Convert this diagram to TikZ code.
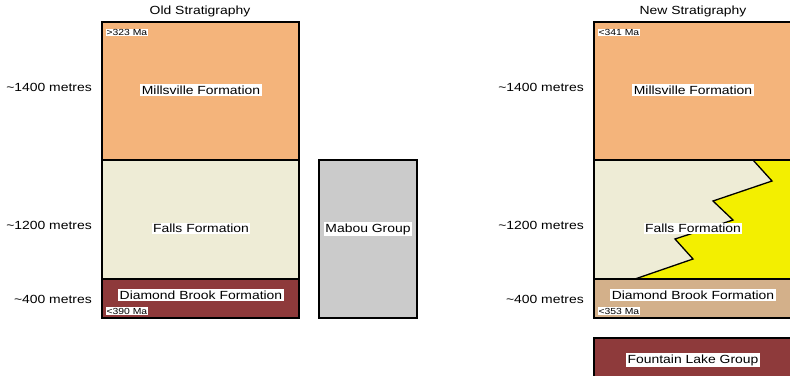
\documentclass[tikz,border=0pt]{standalone}
\usepackage{fontspec}
\setmainfont[FakeStretch=1.18]{Liberation Sans}
\definecolor{mills}{HTML}{F4B47B}
\definecolor{falls}{HTML}{EEECD6}
\definecolor{olddb}{HTML}{8E3A3B}
\definecolor{newdb}{HTML}{D3B08A}
\definecolor{mabou}{HTML}{CBCBCB}
\definecolor{ylw}{HTML}{F3EF00}
\begin{document}
\begin{tikzpicture}[x=1pt,y=-1pt,
  layer/.style={draw=black, line width=1.5pt, inner sep=0pt, outer sep=0pt, anchor=north west},
  lbl/.style={fill=white, inner sep=1.5pt, font=\fontsize{11.8}{13}\selectfont},
  age/.style={fill=white, inner sep=0.8pt, anchor=west, font=\fontsize{8.8}{9}\selectfont},
  depth/.style={anchor=east, inner sep=0pt, font=\fontsize{11.8}{13}\selectfont},
  ttl/.style={inner sep=0pt, font=\fontsize{11.8}{13}\selectfont}]
\useasboundingbox (0,0) rectangle (790,375);
\clip (0,0) rectangle (790,375);
% Old stratigraphy
\node[ttl] (t1) at (200,11) {Old Stratigraphy};
\node[layer, fill=mills, minimum width=197pt, minimum height=138pt] (om) at (102,22) {};
\node[layer, fill=falls, minimum width=197pt, minimum height=119pt] (of) at (102,160) {};
\node[layer, fill=olddb, minimum width=197pt, minimum height=39pt] (od) at (102,279) {};
\node[layer, fill=mabou, minimum width=98pt, minimum height=158pt] (mb) at (319,160) {};
\node[lbl] (omL) at (201,90) {Millsville Formation};
\node[lbl] (ofL) at (201,228.5) {Falls Formation};
\node[lbl] (odL) at (201,295) {Diamond Brook Formation};
\node[lbl] (mbL) at (368,229) {Mabou Group};
\node[age] (oa1) at (105.5,32.5) {>323 Ma};
\node[age] (oa2) at (105.5,311) {<390 Ma};
\node[depth] (d1) at (92,87) {\textasciitilde1400 metres};
\node[depth] (d2) at (92,225) {\textasciitilde1200 metres};
\node[depth] (d3) at (92,299.5) {\textasciitilde400 metres};
% New stratigraphy
\node[ttl] (t2) at (693,11) {New Stratigraphy};
\node[layer, fill=mills, minimum width=198pt, minimum height=138pt] (nm) at (594,22) {};
\node[layer, fill=falls, minimum width=198pt, minimum height=119pt] (nf) at (594,160) {};
\fill[ylw] (753,160) -- (772,181) -- (713,201) -- (733,220) -- (675,239) -- (693,259) -- (635,279) -- (800,279) -- (800,160) -- cycle;
\draw[line width=1.3pt, line join=miter] (753,160) -- (772,181) -- (713,201) -- (733,220) -- (675,239) -- (693,259) -- (635,279);
\draw[line width=1.5pt] (nf.north west) -- (nf.north east);
\node[layer, fill=newdb, minimum width=198pt, minimum height=39pt] (nd) at (594,279) {};
\node[layer, fill=olddb, minimum width=198pt, minimum height=50pt] (fl) at (594,338) {};
\node[lbl] (nmL) at (693,90) {Millsville Formation};
\node[lbl] (nfL) at (693,228.5) {Falls Formation};
\node[lbl] (ndL) at (693,295) {Diamond Brook Formation};
\node[lbl] (flL) at (693,360) {Fountain Lake Group};
\node[age] (na1) at (597.5,32.5) {<341 Ma};
\node[age] (na2) at (597.5,311) {<353 Ma};
\node[depth] (e1) at (584,87) {\textasciitilde1400 metres};
\node[depth] (e2) at (584,225) {\textasciitilde1200 metres};
\node[depth] (e3) at (584,299.5) {\textasciitilde400 metres};
\end{tikzpicture}
\end{document}
